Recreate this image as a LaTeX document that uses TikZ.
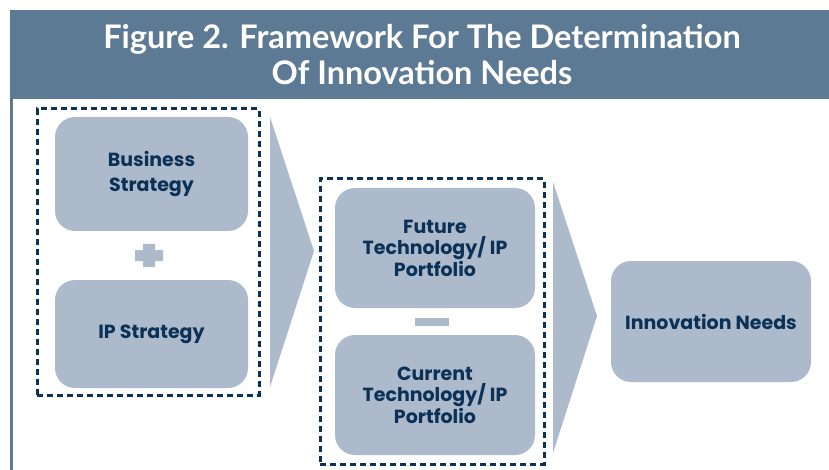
\documentclass[tikz,border=0pt]{standalone}
\usepackage{fontspec}
\setmainfont{Lato}
\newfontfamily\boxfont{Poppins}
\usetikzlibrary{positioning}
\definecolor{headblue}{HTML}{5D7A95}
\definecolor{boxgray}{HTML}{ADBACB}
\definecolor{navy}{HTML}{0B3157}

\begin{document}
\begin{tikzpicture}[x=1pt,y=-1pt,
    blockbox/.style={fill=boxgray, rounded corners=20pt, text=navy, align=center,
        font=\boxfont\bfseries\fontsize{19}{21.5}\selectfont, inner sep=0pt},
    groupbox/.style={draw=navy, line width=3pt, dash pattern=on 6pt off 4pt, inner sep=0pt}]
    \useasboundingbox (0,0) rectangle (829,470);
    % header band
    \fill[headblue] (10,10) rectangle (829,99);
    \draw[headblue, line width=2.5pt] (11.5,99) -- (11.5,470);
    \node[text=white, align=center, font=\bfseries\fontsize{32.5}{36}\selectfont] (title) at (422,55)
        {Figure 2. Framework For The Determination\\Of Innovation Needs};
    % first group
    \node[groupbox, minimum width=222pt, minimum height=286pt] (grpA) at (148,252) {};
    \node[blockbox, minimum width=193pt, minimum height=114pt] (business) at (151.5,174) {Business\\[4pt]Strategy};
    \node[blockbox, minimum width=193pt, minimum height=108pt] (ipstrat) at (151.5,334) {IP Strategy};
    \fill[boxgray] (135,250) rectangle (163,261) (143,244) rectangle (155,267);
    \fill[boxgray] (270,117) -- (314,251) -- (270,387) -- cycle;
    % second group
    \node[groupbox, minimum width=224pt, minimum height=285pt] (grpB) at (432,321.5) {};
    \node[blockbox, minimum width=200pt, minimum height=120pt] (future) at (435,248) {Future\\Technology/ IP\\Portfolio};
    \node[blockbox, minimum width=200pt, minimum height=120pt] (current) at (435,395) {Current\\Technology/ IP\\Portfolio};
    \fill[boxgray] (415,318) rectangle (449,326);
    \fill[boxgray] (553,182) -- (597,316) -- (553,453) -- cycle;
    % result
    \node[blockbox, minimum width=200pt, minimum height=121pt] (needs) at (711,321.5) {Innovation Needs};
\end{tikzpicture}
\end{document}
